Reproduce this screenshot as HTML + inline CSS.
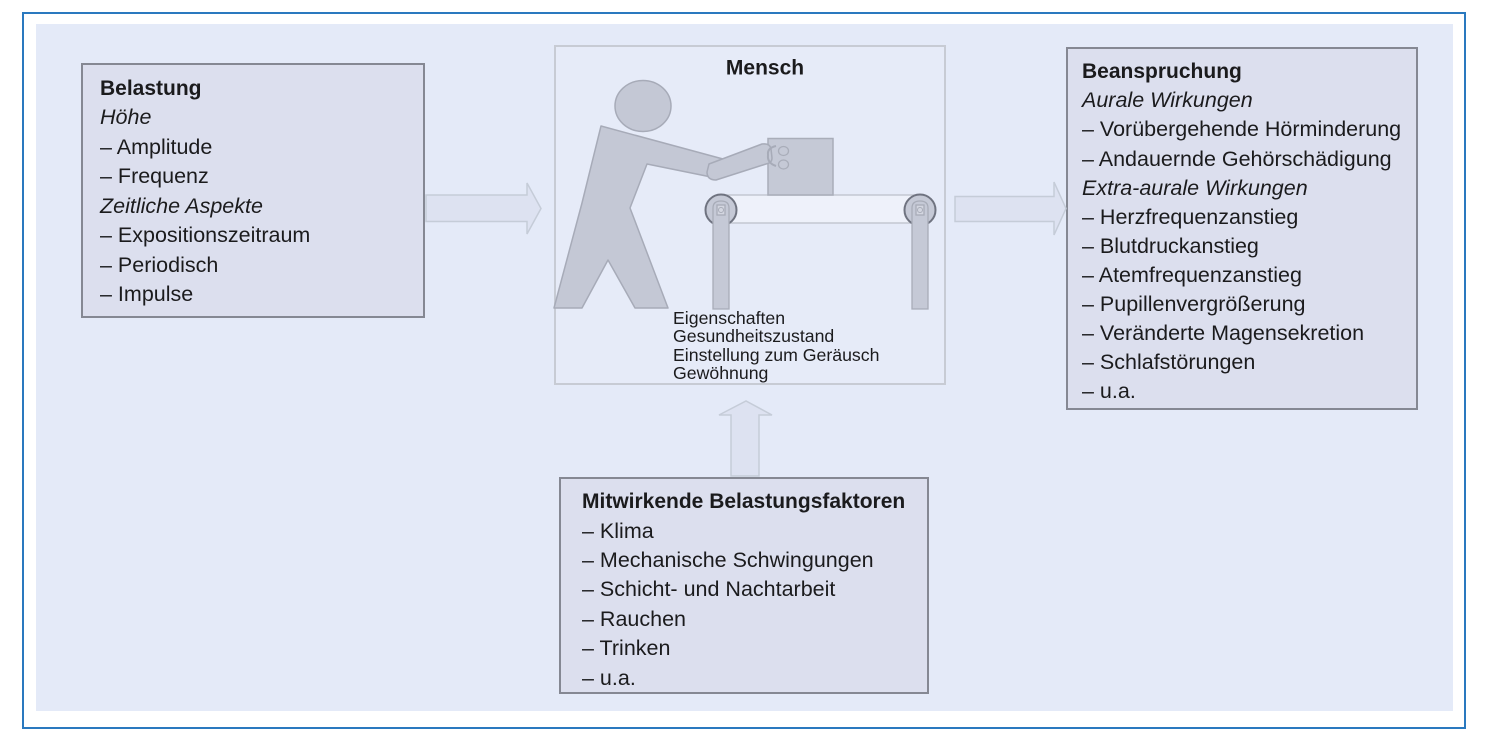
<!DOCTYPE html>
<html>
<head>
<meta charset="utf-8">
<style>
  html,body{margin:0;padding:0;background:#fff;}
  body{width:1488px;height:746px;position:relative;overflow:hidden;font-family:"Liberation Sans",Arial,sans-serif;color:#1b1b1d;}
  .abs{position:absolute;}
  .frame{left:22px;top:12px;width:1444px;height:717px;border:2px solid #2a79bf;box-sizing:border-box;}
  .bg{left:36px;top:24px;width:1417px;height:687px;background:#e4eaf8;}
  .box{box-sizing:border-box;background:#dcdfee;border:2px solid #858893;}
  .txt{font-size:21.5px;line-height:29.45px;white-space:nowrap;}
  .txt b{font-size:21px;font-weight:bold;}
  .txt i{font-style:italic;}
  .mt{font-size:17.7px;line-height:18.5px;white-space:nowrap;}
</style>
</head>
<body>
<div class="abs frame"></div>
<div class="abs bg"></div>

<!-- Belastung box -->
<div class="abs box" style="left:81px;top:63px;width:344px;height:255px;"></div>
<div class="abs txt" style="left:100px;top:73.8px;">
<b>Belastung</b><br>
<i>Höhe</i><br>
– Amplitude<br>
– Frequenz<br>
<i>Zeitliche Aspekte</i><br>
– Expositionszeitraum<br>
– Periodisch<br>
– Impulse
</div>

<!-- Beanspruchung box -->
<div class="abs box" style="left:1066px;top:47px;width:352px;height:363px;"></div>
<div class="abs txt" style="left:1082px;top:57.3px;line-height:29.1px;">
<b>Beanspruchung</b><br>
<i>Aurale Wirkungen</i><br>
– Vorübergehende Hörminderung<br>
– Andauernde Gehörschädigung<br>
<i>Extra-aurale Wirkungen</i><br>
– Herzfrequenzanstieg<br>
– Blutdruckanstieg<br>
– Atemfrequenzanstieg<br>
– Pupillenvergrößerung<br>
– Veränderte Magensekretion<br>
– Schlafstörungen<br>
– u.a.
</div>

<!-- Mitwirkende box -->
<div class="abs box" style="left:559px;top:477px;width:370px;height:217px;"></div>
<div class="abs txt" style="left:582px;top:487.1px;">
<b>Mitwirkende Belastungsfaktoren</b><br>
– Klima<br>
– Mechanische Schwingungen<br>
– Schicht- und Nachtarbeit<br>
– Rauchen<br>
– Trinken<br>
– u.a.
</div>

<!-- Mensch box -->
<div class="abs" style="left:554px;top:45px;width:392px;height:340px;box-sizing:border-box;border:2px solid #c7cbd4;background:#e6ebf8;"></div>

<svg class="abs" style="left:0;top:0;" width="1488" height="746" viewBox="0 0 1488 746">
  <!-- arrows -->
  <g fill="#dde2f1" stroke="#c5ccd8" stroke-width="1.5">
    <polygon points="426,195 527,195 527,183 541,208.5 527,234 527,221.5 426,221.5"/>
    <polygon points="955,196.5 1054,196.5 1054,182 1066,208.5 1054,235 1054,221.5 955,221.5"/>
    <polygon points="731,476 731,415 719,415 746,401 772,415 759,415 759,476"/>
  </g>

  <!-- conveyor belt -->
  <rect x="721" y="195" width="199" height="28" fill="#eef1fa" stroke="#c3c7d1" stroke-width="1.5"/>
  <!-- rollers -->
  <g>
    <circle cx="721" cy="210" r="15.5" fill="#c5c9d6" stroke="#6f7380" stroke-width="2"/>
    <circle cx="920" cy="210" r="15.5" fill="#c5c9d6" stroke="#6f7380" stroke-width="2"/>
  </g>
  <!-- legs of conveyor -->
  <g fill="#c5c9d6" stroke="#a8acb8" stroke-width="1.3">
    <path d="M713,309 L713,208 Q713,201 721,201 Q729,201 729,208 L729,309 Z"/>
    <path d="M912,309 L912,208 Q912,201 920,201 Q928,201 928,208 L928,309 Z"/>
    <rect x="717" y="205" width="8" height="10" fill="#d3d6e0"/>
    <rect x="916" y="205" width="8" height="10" fill="#d3d6e0"/>
  </g>
  <g fill="none" stroke="#a8acb8" stroke-width="1">
    <circle cx="721" cy="210" r="2.5"/>
    <circle cx="920" cy="210" r="2.5"/>
  </g>

  <!-- package -->
  <rect x="768" y="138.5" width="65" height="56.5" fill="#c5c9d6" stroke="#a9adb9" stroke-width="1.5"/>
  <g fill="#c5c9d6" stroke="#a9adb9" stroke-width="1.3">
    <ellipse cx="783.5" cy="151" rx="5" ry="4.5"/>
    <ellipse cx="783.5" cy="164.5" rx="5" ry="4.5"/>
  </g>

  <!-- person -->
  <g fill="#c4c8d5" stroke="#a7abb8" stroke-width="1.5" stroke-linejoin="round">
    <ellipse cx="643" cy="106" rx="28" ry="25.5"/>
    <polygon points="601,126 723,159 716,178 647,164 630,208 668,308 635,308 608,260 582,308 554,308 582,203"/>
    <path d="M709,164 L762,144 Q770,143 771,149 L772,158 Q772,163 766,164 L716,180 Q707,180 707,172 Z"/>
    <path d="M776,146 Q767,148 768,155 Q767,163 776,166" fill="none" stroke-width="2"/>
  </g>

  <!-- Mensch title -->
  <text x="765" y="74.3" text-anchor="middle" font-family="Liberation Sans, Arial, sans-serif" font-weight="bold" font-size="21" fill="#1b1b1d">Mensch</text>
</svg>

<div class="abs mt" style="left:673px;top:308.6px;">
Eigenschaften<br>
Gesundheitszustand<br>
Einstellung zum Geräusch<br>
Gewöhnung
</div>
</body>
</html>
